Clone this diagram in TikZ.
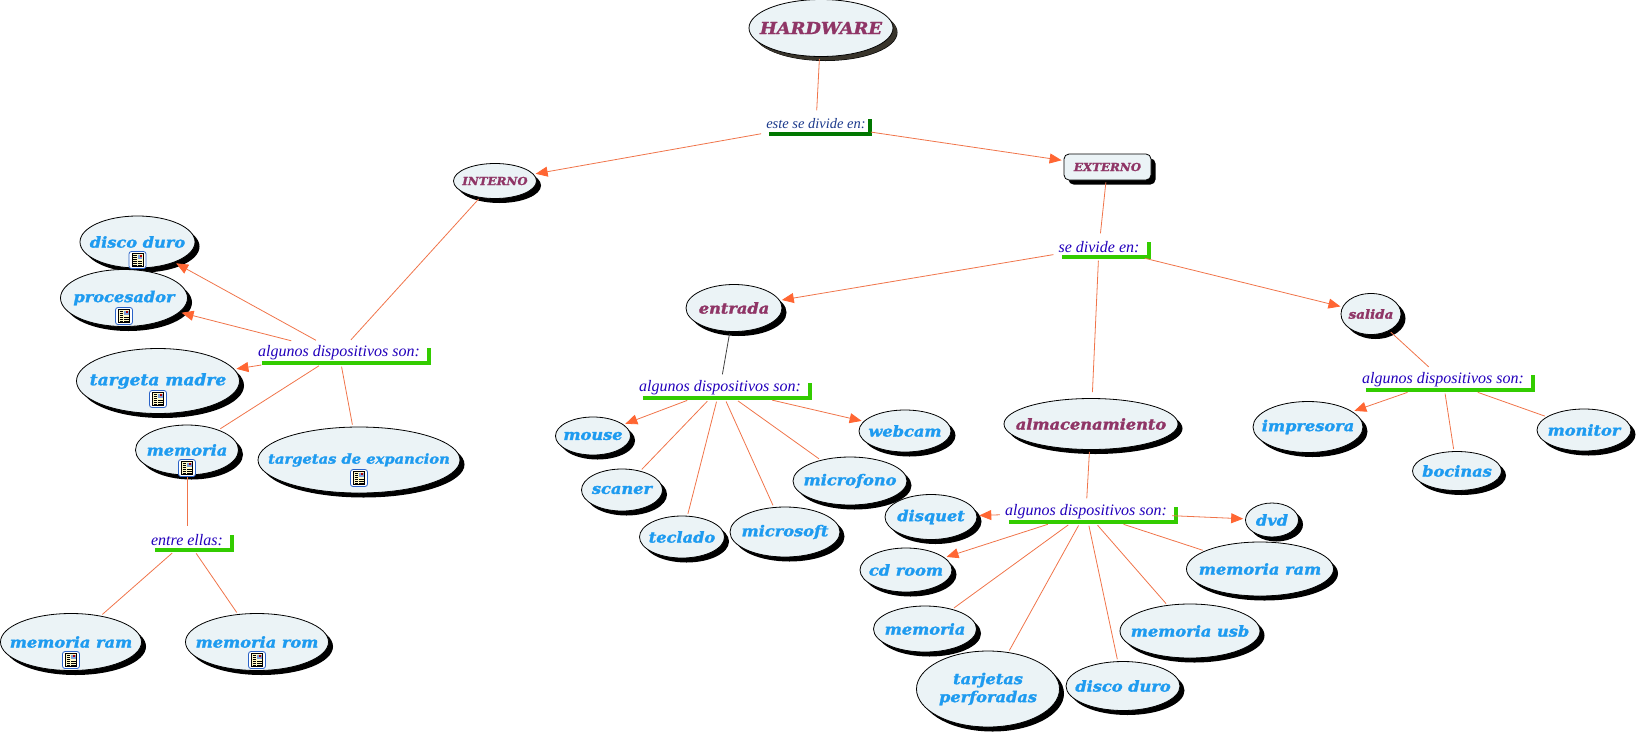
\documentclass[tikz,border=0pt]{standalone}
\usepackage{fontspec}
\usetikzlibrary{arrows.meta, shapes.geometric, shadows}
\setmainfont{Liberation Serif}
\newfontfamily\blockfont{DejaVu Serif}[BoldItalicFeatures={FakeBold=1.6, FakeStretch=1.08}]
\definecolor{nodefill}{HTML}{EBF3F6}
\definecolor{itemblue}{HTML}{1E9BF0}
\definecolor{topicred}{HTML}{8F3566}
\definecolor{linkline}{HTML}{F0744A}
\definecolor{linkhead}{HTML}{FF6633}
\definecolor{linktext}{HTML}{2200BB}
\definecolor{linknavy}{HTML}{1C3A8C}
\definecolor{barlime} {HTML}{33CC00}
\definecolor{bargreen}{HTML}{007700}
\definecolor{iconblue}{HTML}{2A62C8}
\definecolor{iconpaper}{HTML}{FFF9C8}
\tikzset{
  docicon/.pic={
    \draw[iconblue, fill=white, line width=.8pt, rounded corners=2.5pt] (-8.5,-8.5) rectangle (8.5,8.5);
    \draw[black, fill=iconpaper, line width=.7pt] (-5.5,-6.5) rectangle (5.5,6.5);
    \fill[iconblue!60] (0,-5.5) rectangle (4.5,-1);
    \fill[red!70!black] (2,-5) rectangle (4,-3.2);
    \foreach \ty in {-4.5,-2.5,-.5,1.5,3.5,5} \draw[black, line width=.6pt] (-4.5,\ty) -- (-1,\ty);
    \foreach \ty in {1.5,3.5,5} \draw[black, line width=.6pt] (0,\ty) -- (4.5,\ty);
  }
}
\begin{document}
\begin{tikzpicture}[
    x=1pt, y=-1pt,
    size/.style 2 args={minimum width=#1pt, minimum height=#2pt},
    item/.style={ellipse, draw=black, fill=nodefill, line width=.8pt, inner xsep=-40pt, inner ysep=-30pt,
                 general shadow={fill=black, shadow xshift=4.5pt, shadow yshift=-4.5pt},
                 text=itemblue, align=center, font=\blockfont\bfseries\itshape\fontsize{15}{18}\selectfont},
    topic/.style={item, text=topicred},
    phrase/.style={inner xsep=3pt, inner ysep=0pt, minimum height=23pt, text=linktext,
                   font=\itshape\fontsize{16}{18}\selectfont},
    bar/.style={draw=barlime, line width=4pt},
    conn/.style={draw=linkline, line width=.8pt, shorten <=2pt, shorten >=2pt},
    arr/.style={conn, -{Triangle[length=12pt, width=10pt, color=linkhead]}}
  ]
    \useasboundingbox (0,0) rectangle (1639,734);

    % top of the map
    \node[topic, size={144}{57}, general shadow={fill=black!80!olive, shadow xshift=4pt, shadow yshift=-4pt},
          font=\blockfont\bfseries\itshape\fontsize{16.5}{20}\selectfont] (hw) at (821,28) {HARDWARE};
    \node[phrase, text=linknavy, font=\itshape\fontsize{14.5}{18}\selectfont] (ptop) at (816,124) {este se divide en:};
    \node[topic, size={83}{35}, font=\blockfont\bfseries\itshape\fontsize{11}{12}\selectfont] (int) at (495,181) {INTERNO};
    \node[draw=black, fill=nodefill, line width=.8pt, rounded corners=5pt, inner sep=0pt, size={87}{26},
          general shadow={fill=black, shadow xshift=4.5pt, shadow yshift=-4.5pt}, text=topicred,
          font=\blockfont\bfseries\itshape\fontsize{11}{12}\selectfont] (ext) at (1107.5,167) {EXTERNO};

    % internal parts
    \node[phrase] (pint) at (339,353) {algunos dispositivos son:};
    \node[item, size={115}{52}]  (disco)   at (137.5,242) {disco duro};
    \node[item, size={127}{57}]  (proc)    at (124,298)   {procesador};
    \node[item, size={163}{65}, font=\blockfont\bfseries\itshape\fontsize{15.8}{18}\selectfont] (madre) at (158,381) {targeta madre};
    \node[item, size={103}{50}]  (memo)    at (187,450)   {memoria};
    \node[item, size={202}{66}, font=\blockfont\bfseries\itshape\fontsize{13.6}{18}\selectfont] (expan) at (359,460) {targetas de expancion};
    \node[phrase] (pmem) at (187,540) {entre ellas:};
    \node[item, size={141}{57}]  (ram)     at (71,642)    {memoria ram};
    \node[item, size={143}{57}]  (rom)     at (257,642)   {memoria rom};

    % external parts
    \node[phrase] (pext) at (1099,247) {se divide en:};
    \node[topic, size={96}{47}]  (entra)   at (734,308)   {entrada};
    \node[topic, size={60}{41}, font=\blockfont\bfseries\itshape\fontsize{12.5}{18}\selectfont] (sali) at (1371,314) {salida};
    \node[topic, size={174}{51}] (almac)   at (1091,424)  {almacenamiento};

    \node[phrase] (pent) at (720,388) {algunos dispositivos son:};
    \node[item, size={75}{38}]   (mouse)   at (593,436)   {mouse};
    \node[item, size={92}{42}]   (webcam)  at (905,431)   {webcam};
    \node[item, size={81}{42}]   (scaner)  at (622,490)   {scaner};
    \node[item, size={85}{42}]   (tecla)   at (682,537)   {teclado};
    \node[item, size={110}{50}]  (micros)  at (785,532)   {microsoft};
    \node[item, size={114}{48}]  (microf)  at (850,481)   {microfono};

    \node[phrase] (palm) at (1086,512) {algunos dispositivos son:};
    \node[item, size={92}{45}]   (disq)    at (931,517)   {disquet};
    \node[item, size={53}{34}]   (dvd)     at (1272,520)  {dvd};
    \node[item, size={92}{44}]   (cdrom)   at (906,570)   {cd room};
    \node[item, size={147}{54}]  (ramb)    at (1260,569)  {memoria ram};
    \node[item, size={103}{46}]  (memob)   at (925,629)   {memoria};
    \node[item, size={140}{54}]  (usb)     at (1190,631)  {memoria usb};
    \node[item, size={143}{76}]  (tarj)    at (988,689)   {tarjetas\\perforadas};
    \node[item, size={114}{49}]  (discob)  at (1123,686)  {disco duro};

    \node[phrase] (psal) at (1443,380) {algunos dispositivos son:};
    \node[item, size={110}{51}]  (impre)   at (1308,427)  {impresora};
    \node[item, size={89}{39}]   (boci)    at (1457,471)  {bocinas};
    \node[item, size={94}{42}]   (moni)    at (1584,430)  {monitor};

    % image markers
    \foreach \n in {disco, proc, madre, memo, expan, ram, rom}
      \pic at ([yshift=-18pt]\n.center) {docicon};

    % bars under the linking phrases
    \draw[bar, draw=bargreen] ([xshift=6pt,yshift=2pt]ptop.south west) -| ([xshift=1pt,yshift=-7pt]ptop.north east);
    \foreach \p in {pint, pmem, pext, pent, palm, psal}
      \draw[bar] ([xshift=7pt,yshift=2pt]\p.south west) -| ([xshift=6pt,yshift=-7pt]\p.north east);

    % connectors
    \draw[conn] (hw) -- (ptop);
    \draw[arr] (ptop) -- (int);
    \draw[arr] (ptop) -- (ext);
    \draw[conn] (int) -- (pint);
    \draw[arr] (pint) -- (disco);
    \draw[arr] (pint) -- (proc);
    \draw[arr] (pint) -- (madre);
    \draw[conn] (pint) -- (memo);
    \draw[conn] (pint) -- (expan);
    \draw[conn] (memo) -- (pmem);
    \draw[conn] (pmem) -- (ram);
    \draw[conn] (pmem) -- (rom);
    \draw[conn] (ext) -- (pext);
    \draw[arr] (pext) -- (entra);
    \draw[arr] (pext) -- (sali);
    \draw[conn, shorten >=6pt] (pext) -- (almac);
    \draw[conn, draw=black!75] (entra) -- (pent);
    \draw[arr] (pent) -- (mouse);
    \draw[arr] (pent) -- (webcam);
    \foreach \n in {scaner, tecla, micros, microf}
      \draw[conn] (pent) -- (\n);
    \draw[conn] (almac) -- (palm);
    \foreach \n in {disq, cdrom, dvd}
      \draw[arr] (palm) -- (\n);
    \foreach \n in {memob, tarj, discob, usb, ramb}
      \draw[conn] (palm) -- (\n);
    \draw[conn] (sali) -- (psal);
    \draw[arr] (psal) -- (impre);
    \draw[conn] (psal) -- (boci);
    \draw[conn] (psal) -- (moni);
  \end{tikzpicture}
\end{document}
